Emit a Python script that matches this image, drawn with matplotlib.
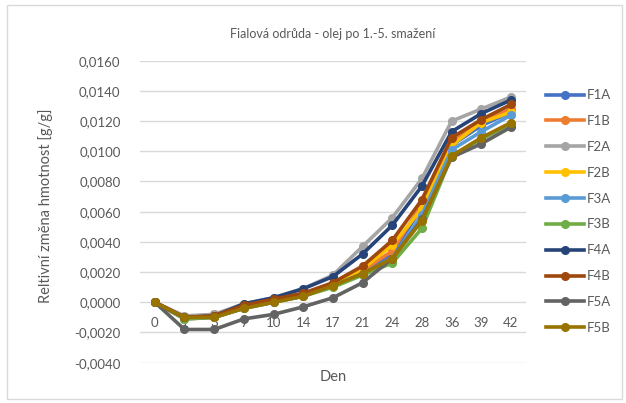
import matplotlib.pyplot as plt
from matplotlib.patches import Rectangle
from matplotlib.ticker import FuncFormatter

plt.rcParams['font.family'] = ['Lato', 'DejaVu Sans']

dny = ["0", "1", "3", "7", "10", "14", "17", "21", "24", "28", "36", "39", "42"]

F1A = [0, -0.0010, -0.0009, -0.0003, 0.0001, 0.0005, 0.0012, 0.0020, 0.0032, 0.0063, 0.0104, 0.0117, 0.0126]
F1B = [0, -0.0010, -0.0008, -0.0003, 0.0001, 0.0005, 0.0012, 0.0021, 0.0034, 0.0065, 0.0106, 0.0120, 0.0128]
F2A = [0, -0.0009, -0.0008, -0.0001, 0.0003, 0.0009, 0.0018, 0.0037, 0.0056, 0.0082, 0.0120, 0.0128, 0.0136]
F2B = [0, -0.0011, -0.0010, -0.0003, 0.0001, 0.0005, 0.0012, 0.0022, 0.0038, 0.0062, 0.0104, 0.0119, 0.0126]
F3A = [0, -0.0011, -0.0010, -0.0004, 0.0000, 0.0004, 0.0011, 0.0019, 0.0029, 0.0058, 0.0101, 0.0113, 0.0124]
F3B = [0, -0.0011, -0.0010, -0.0004, 0.0000, 0.0004, 0.0010, 0.0018, 0.0026, 0.0049, 0.0097, 0.0108, 0.0118]
F4A = [0, -0.0010, -0.0009, -0.0001, 0.0003, 0.0009, 0.0017, 0.0032, 0.0051, 0.0077, 0.0113, 0.0125, 0.0134]
F4B = [0, -0.0010, -0.0009, -0.0002, 0.0002, 0.0006, 0.0013, 0.0024, 0.0041, 0.0068, 0.0109, 0.0121, 0.0131]
F5A = [0, -0.0018, -0.0018, -0.0011, -0.0008, -0.0003, 0.0003, 0.0013, 0.0029, 0.0055, 0.0096, 0.0105, 0.0116]
F5B = [0, -0.0010, -0.0010, -0.0004, 0.0000, 0.0004, 0.0011, 0.0019, 0.0029, 0.0054, 0.0097, 0.0109, 0.0119]

serie = [("F1A", F1A, "#4472C4"), ("F1B", F1B, "#ED7D31"), ("F2A", F2A, "#A5A5A5"),
         ("F2B", F2B, "#FFC000"), ("F3A", F3A, "#5B9BD5"), ("F3B", F3B, "#70AD47"),
         ("F4A", F4A, "#264478"), ("F4B", F4B, "#9E480E"), ("F5A", F5A, "#636363"),
         ("F5B", F5B, "#997300")]

fig = plt.figure(figsize=(6.26, 4.03), dpi=100)
fig.patches.append(Rectangle((0.011, 0.01), 0.982, 0.978, transform=fig.transFigure,
                             fill=False, edgecolor="#d9d9d9", linewidth=1))
ax = fig.add_axes([0.2236, 0.1, 0.6164, 0.7494])

x = list(range(len(dny)))
for nazev, hodnoty, barva in serie:
    ax.plot(x, hodnoty, color=barva, marker="o", markersize=5.5, linewidth=2.6, label=nazev)

ax.set_ylim(-0.004, 0.016)
ax.set_xlim(-0.5, len(dny) - 0.5)
ax.set_yticks([i * 0.002 for i in range(-2, 9)])
ax.yaxis.set_major_formatter(FuncFormatter(lambda v, p: f"{v:.4f}".replace(".", ",")))
ax.set_xticks(x)
ax.set_xticklabels(dny)
ax.grid(axis="y", color="#d9d9d9", linewidth=1)
ax.set_axisbelow(True)
for s in ["top", "right", "left"]:
    ax.spines[s].set_visible(False)
ax.spines["bottom"].set_position(("data", 0))
ax.spines["bottom"].set_color("none")
ax.tick_params(axis="both", length=0, labelsize=9.5, colors="#595959")
ax.tick_params(axis="y", pad=14)
ax.tick_params(axis="x", pad=10.5)

ax.set_title("Fialová odrůda - olej po 1.-5. smažení", fontsize=9, color="#595959", pad=16)
fig.text(0.072, 0.49, "Reltivní změna hmotnost [g/g]", rotation=90, ha="center", va="center",
         fontsize=10.5, color="#595959")
fig.text(0.532, 0.065, "Den", ha="center", va="center", fontsize=10.5, color="#595959")

fig.legend(loc="upper left", bbox_to_anchor=(0.862, 0.795), frameon=False, fontsize=9.5,
           labelspacing=1.05, handlelength=2.9, handletextpad=0.2, borderpad=0,
           labelcolor="#595959")

fig.savefig("out.png", dpi=100)
